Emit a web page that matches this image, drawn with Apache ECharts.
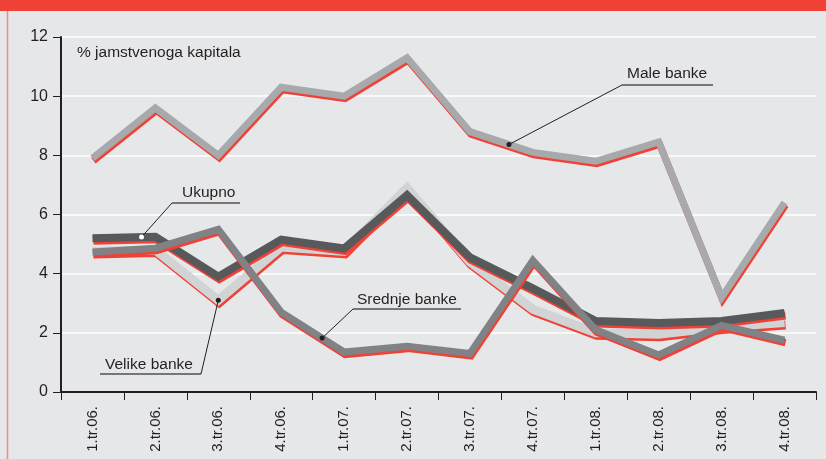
<!DOCTYPE html>
<html>
<head>
<meta charset="utf-8">
<script src="https://cdn.jsdelivr.net/npm/echarts@6/dist/echarts.min.js"></script>
<style>
  html, body { margin: 0; padding: 0; background: #e6e7e8; }
  #chart { width: 826px; height: 459px; }
</style>
</head>
<body>
<div id="chart"></div>
<script>
var categories = ['1.tr.06.', '2.tr.06.', '3.tr.06.', '4.tr.06.', '1.tr.07.', '2.tr.07.',
                  '3.tr.07.', '4.tr.07.', '1.tr.08.', '2.tr.08.', '3.tr.08.', '4.tr.08.'];
var maleBanke    = [7.9, 9.6, 8.0, 10.3, 10.0, 11.3, 8.8, 8.1, 7.8, 8.45, 3.2, 6.4];
var velikeBanke  = [4.75, 4.8, 3.1, 4.9, 4.75, 6.9, 4.4, 2.8, 2.0, 1.95, 2.2, 2.35];
var srednjeBanke = [4.73, 4.86, 5.5, 2.7, 1.35, 1.55, 1.3, 4.45, 2.1, 1.25, 2.25, 1.75];
var ukupno       = [5.2, 5.25, 3.9, 5.15, 4.85, 6.65, 4.55, 3.5, 2.4, 2.33, 2.4, 2.67];
var yTicks = [0, 2, 4, 6, 8, 10, 12];

var red = '#ef4136';
var txt = '#231f20';
var font = 'Liberation Sans, Arial, sans-serif';

function lineSeries(name, data, color, width, z) {
    return {
        name: name,
        type: 'line',
        data: data,
        z: z,
        showSymbol: false,
        symbol: 'none',
        silent: true,
        lineStyle: {
            color: color,
            width: width,
            cap: 'butt',
            join: 'miter',
            shadowColor: red,
            shadowBlur: 0,
            shadowOffsetX: 1,
            shadowOffsetY: 2.5
        }
    };
}

var chart = echarts.init(document.getElementById('chart'));
chart.setOption({
    backgroundColor: '#e6e7e8',
    animation: false,
    textStyle: { fontFamily: font },
    grid: { left: 61, right: 10, top: 37, bottom: 67 },
    xAxis: {
        type: 'category',
        data: categories,
        boundaryGap: true,
        axisLine: { lineStyle: { color: txt, width: 2 } },
        axisTick: { show: true, length: 8, lineStyle: { color: txt, width: 1 } },
        axisLabel: { rotate: 90, fontSize: 15, color: txt, margin: 14, interval: 0 }
    },
    yAxis: {
        type: 'value',
        min: yTicks[0],
        max: yTicks[yTicks.length - 1],
        interval: 2,
        axisLine: { show: true, lineStyle: { color: txt, width: 2 } },
        axisTick: { show: true, length: 8, lineStyle: { color: txt, width: 1 } },
        axisLabel: { fontSize: 16, color: txt, margin: 13 },
        splitLine: { lineStyle: { color: '#ffffff', width: 1.5 } }
    },
    series: [
        lineSeries('Male banke', maleBanke, '#a7a9ac', 7, 2),
        lineSeries('Velike banke', velikeBanke, '#d1d3d4', 9, 3),
        lineSeries('Ukupno', ukupno, '#58595b', 8, 4),
        lineSeries('Srednje banke', srednjeBanke, '#808285', 7, 5)
    ]
});

// point on a series between index i and i+1 (t = 0..1)
function along(data, i, t) {
    var a = chart.convertToPixel({ gridIndex: 0 }, [i, data[i]]);
    var b = chart.convertToPixel({ gridIndex: 0 }, [i + 1, data[i + 1]]);
    return [a[0] + (b[0] - a[0]) * t, a[1] + (b[1] - a[1]) * t];
}

function label(text, x, y) {
    return { type: 'text', x: x, y: y, z: 20,
             style: { text: text, fill: txt, font: '15.5px ' + font, verticalAlign: 'middle' } };
}

function callout(text, tx, ty, ux1, ux2, uy, anchorX, dot, dotFill) {
    return [
        label(text, tx, ty),
        { type: 'line', z: 20, shape: { x1: ux1, y1: uy, x2: ux2, y2: uy },
          style: { stroke: '#505050', lineWidth: 1.5 } },
        { type: 'line', z: 20, shape: { x1: anchorX, y1: uy, x2: dot[0], y2: dot[1] },
          style: { stroke: txt, lineWidth: 1 } },
        { type: 'circle', z: 21, shape: { cx: dot[0], cy: dot[1], r: 2.5 },
          style: { fill: dotFill, stroke: null } }
    ];
}

var g = [
    { type: 'rect', z: 30, shape: { x: 0, y: 0, width: 826, height: 11 }, style: { fill: red } },
    { type: 'line', z: 30, shape: { x1: 7.5, y1: 11, x2: 7.5, y2: 459 },
      style: { stroke: '#f08a80', lineWidth: 1.5 } },
    label('% jamstvenoga kapitala', 77, 53)
];
g = g.concat(callout('Male banke', 627, 74, 622, 713, 85, 622, along(maleBanke, 6, 0.62), txt));
g = g.concat(callout('Ukupno', 182, 193, 172, 240, 203, 172, along(ukupno, 0, 0.78), '#ffffff'));
g = g.concat(callout('Velike banke', 105, 365, 100, 201, 374, 201, along(velikeBanke, 2, 0), txt));
g = g.concat(callout('Srednje banke', 357, 300, 353, 461, 309, 353, along(srednjeBanke, 3, 0.65), txt));

chart.setOption({ graphic: g });
</script>
</body>
</html>
